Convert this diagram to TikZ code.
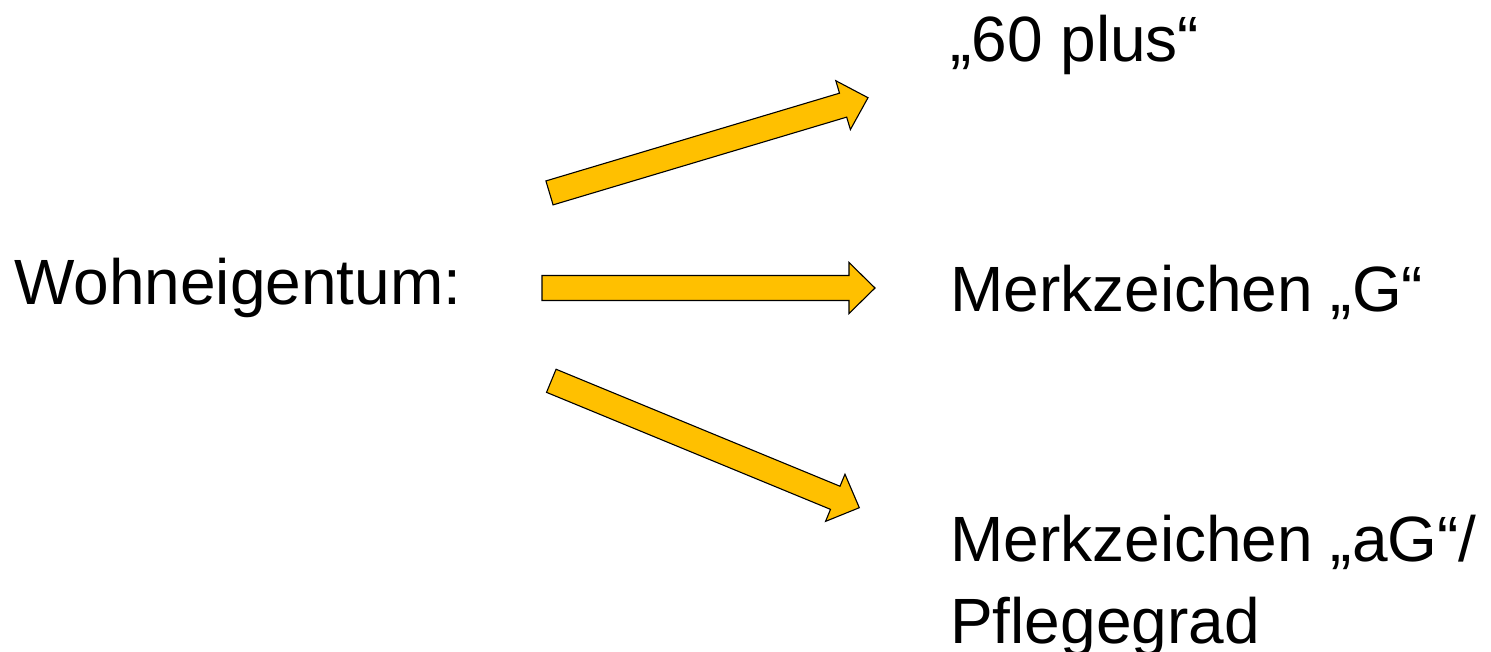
\documentclass[tikz,border=0pt]{standalone}
\usepackage{fontspec}
\setmainfont{Liberation Sans}
\usetikzlibrary{calc}
\definecolor{arrowfill}{HTML}{FFC000}
\tikzset{
  fatarrow/.style={fill=arrowfill, draw=black, line width=1.1pt, line join=miter},
  label/.style={anchor=base west, inner sep=0pt, align=left,
    font=\fontsize{64}{82}\selectfont}
}
% block arrow from tail centre #1 to tip #2
\newcommand\blockarrow[2]{%
  \path ($(#2)!26pt!(#1)$) coordinate (hb);
  \draw[fatarrow]
    ($(#1)!12.5pt!90:(#2)$) -- ($(hb)!12.5pt!90:(#2)$) --
    ($(hb)!25.5pt!90:(#2)$) -- (#2) --
    ($(hb)!25.5pt!-90:(#2)$) -- ($(hb)!12.5pt!-90:(#2)$) --
    ($(#1)!12.5pt!-90:(#2)$) -- cycle;}
\begin{document}
\begin{tikzpicture}[x=1pt,y=-1pt]
  \useasboundingbox (0,0) rectangle (1491,651);

  \node[label] (src) at (14,304) {Wohneigentum:};
  \node[label] (t1) at (950,61) {„60 plus“};
  \node[label] (t2) at (950,311) {Merkzeichen „G“};
  % the base anchor of a two-line node sits on its last line
  \node[label] (t3) at (950,643) {Merkzeichen „aG“/\\Pflegegrad};

  \coordinate (a1s) at (549.5,192.9);
  \coordinate (a1e) at (868,97.7);
  \coordinate (a2s) at (542,288);
  \coordinate (a2e) at (875,288);
  \coordinate (a3s) at (551.3,380.8);
  \coordinate (a3e) at (859.3,507.7);

  \blockarrow{a1s}{a1e}
  \blockarrow{a2s}{a2e}
  \blockarrow{a3s}{a3e}
\end{tikzpicture}
\end{document}
